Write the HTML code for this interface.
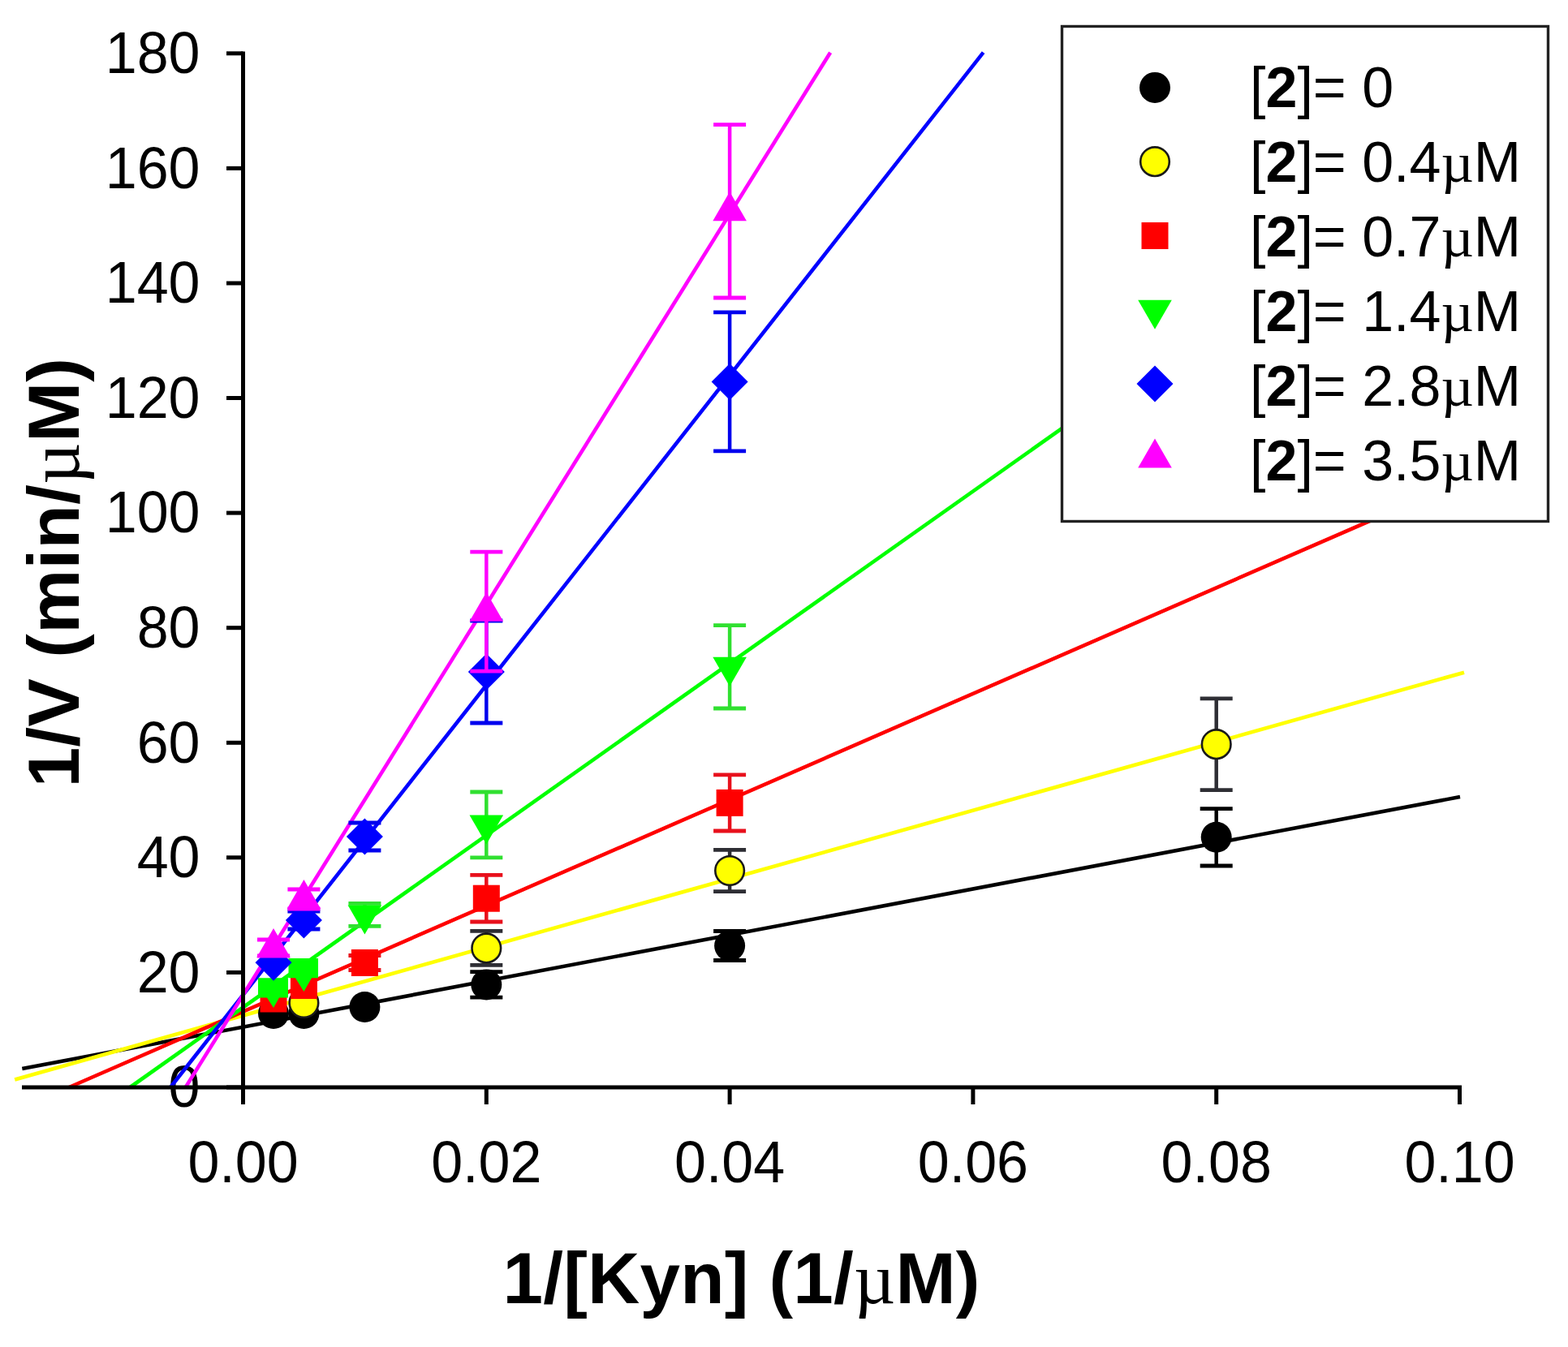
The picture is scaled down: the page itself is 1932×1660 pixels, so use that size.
<!DOCTYPE html>
<html><head><meta charset="utf-8"><title>Lineweaver-Burk plot</title>
<style>
html,body{margin:0;padding:0;background:#fff;}
body{width:1932px;height:1660px;overflow:hidden;}
svg{display:block;}
text{font-family:"Liberation Sans",Arial,sans-serif;fill:#000;}
.mu{font-family:"Liberation Serif","Times New Roman",serif;}
</style></head><body>
<svg width="1932" height="1660" viewBox="0 0 1932 1660">
<rect width="1932" height="1660" fill="#fff"/>

<g font-size="70">
<text transform="translate(246.5,1364.3) scale(1,1.02)" text-anchor="end">0</text>
<text transform="translate(246.5,1222.7) scale(1,1.02)" text-anchor="end">20</text>
<text transform="translate(246.5,1081.1) scale(1,1.02)" text-anchor="end">40</text>
<text transform="translate(246.5,939.6) scale(1,1.02)" text-anchor="end">60</text>
<text transform="translate(246.5,798.0) scale(1,1.02)" text-anchor="end">80</text>
<text transform="translate(246.5,656.4) scale(1,1.02)" text-anchor="end">100</text>
<text transform="translate(246.5,514.8) scale(1,1.02)" text-anchor="end">120</text>
<text transform="translate(246.5,373.3) scale(1,1.02)" text-anchor="end">140</text>
<text transform="translate(246.5,231.7) scale(1,1.02)" text-anchor="end">160</text>
<text transform="translate(246.5,90.1) scale(1,1.02)" text-anchor="end">180</text>
<text transform="translate(299.5,1456.5) scale(1,1.04)" text-anchor="middle">0.00</text>
<text transform="translate(599.3,1456.5) scale(1,1.04)" text-anchor="middle">0.02</text>
<text transform="translate(899.1,1456.5) scale(1,1.04)" text-anchor="middle">0.04</text>
<text transform="translate(1198.9,1456.5) scale(1,1.04)" text-anchor="middle">0.06</text>
<text transform="translate(1498.7,1456.5) scale(1,1.04)" text-anchor="middle">0.08</text>
<text transform="translate(1798.5,1456.5) scale(1,1.04)" text-anchor="middle">0.10</text>
</g>
<g stroke-width="4.6" fill="none" stroke-linecap="butt">
<line x1="27.3" y1="1317.1" x2="1799.0" y2="982.0" stroke="#000000"/>
<line x1="18.2" y1="1330.5" x2="1804.0" y2="828.7" stroke="#ffff00"/>
<line x1="85.0" y1="1340.0" x2="1799.0" y2="593.6" stroke="#ff0000"/>
<line x1="160.2" y1="1340.0" x2="1799.0" y2="181.0" stroke="#00ff00"/>
<line x1="210.0" y1="1340.0" x2="1211.6" y2="64.7" stroke="#0000ff"/>
<line x1="228.6" y1="1340.0" x2="1023.1" y2="64.7" stroke="#ff00ff"/>
</g>
<g stroke="#000" stroke-width="5" fill="none">
<line x1="27" y1="1340.0" x2="1801" y2="1340.0"/>
<line x1="299.5" y1="63.5" x2="299.5" y2="1342.3"/>
<line x1="279" y1="1340.0" x2="299.5" y2="1340.0"/>
<line x1="279" y1="1198.4" x2="299.5" y2="1198.4"/>
<line x1="279" y1="1056.8" x2="299.5" y2="1056.8"/>
<line x1="279" y1="915.3" x2="299.5" y2="915.3"/>
<line x1="279" y1="773.7" x2="299.5" y2="773.7"/>
<line x1="279" y1="632.1" x2="299.5" y2="632.1"/>
<line x1="279" y1="490.5" x2="299.5" y2="490.5"/>
<line x1="279" y1="349.0" x2="299.5" y2="349.0"/>
<line x1="279" y1="207.4" x2="299.5" y2="207.4"/>
<line x1="279" y1="65.8" x2="299.5" y2="65.8"/>
<line x1="299.5" y1="1340.0" x2="299.5" y2="1361.0"/>
<line x1="599.3" y1="1340.0" x2="599.3" y2="1361.0"/>
<line x1="899.1" y1="1340.0" x2="899.1" y2="1361.0"/>
<line x1="1198.9" y1="1340.0" x2="1198.9" y2="1361.0"/>
<line x1="1498.7" y1="1340.0" x2="1498.7" y2="1361.0"/>
<line x1="1798.5" y1="1340.0" x2="1798.5" y2="1361.0"/>
</g>
<g><circle cx="337.0" cy="1249.0" r="19.0" fill="#000"/><circle cx="374.4" cy="1249.0" r="19.0" fill="#000"/><circle cx="449.4" cy="1241.0" r="19.0" fill="#000"/><line x1="599.3" y1="1197.7" x2="599.3" y2="1229.1" stroke="#000000" stroke-width="4.5"/><line x1="579.3" y1="1197.7" x2="619.3" y2="1197.7" stroke="#000000" stroke-width="4.8"/><line x1="579.3" y1="1229.1" x2="619.3" y2="1229.1" stroke="#000000" stroke-width="4.8"/><circle cx="599.3" cy="1213.4" r="19.0" fill="#000"/><line x1="899.1" y1="1147.5" x2="899.1" y2="1183.5" stroke="#000000" stroke-width="4.5"/><line x1="879.1" y1="1147.5" x2="919.1" y2="1147.5" stroke="#000000" stroke-width="4.8"/><line x1="879.1" y1="1183.5" x2="919.1" y2="1183.5" stroke="#000000" stroke-width="4.8"/><circle cx="899.1" cy="1165.5" r="19.0" fill="#000"/><line x1="1498.7" y1="996.6" x2="1498.7" y2="1067.0" stroke="#000000" stroke-width="4.5"/><line x1="1478.7" y1="996.6" x2="1518.7" y2="996.6" stroke="#000000" stroke-width="4.8"/><line x1="1478.7" y1="1067.0" x2="1518.7" y2="1067.0" stroke="#000000" stroke-width="4.8"/><circle cx="1498.7" cy="1031.8" r="19.0" fill="#000"/></g>
<g><circle cx="374.4" cy="1236.0" r="17.8" fill="#ffff00" stroke="#1a1a1a" stroke-width="2.6"/><line x1="599.3" y1="1147.4" x2="599.3" y2="1189.4" stroke="#2e2e34" stroke-width="4.5"/><line x1="579.3" y1="1147.4" x2="619.3" y2="1147.4" stroke="#2e2e34" stroke-width="4.8"/><line x1="579.3" y1="1189.4" x2="619.3" y2="1189.4" stroke="#2e2e34" stroke-width="4.8"/><circle cx="599.3" cy="1168.4" r="17.8" fill="#ffff00" stroke="#1a1a1a" stroke-width="2.6"/><line x1="899.1" y1="1047.3" x2="899.1" y2="1098.7" stroke="#2e2e34" stroke-width="4.5"/><line x1="879.1" y1="1047.3" x2="919.1" y2="1047.3" stroke="#2e2e34" stroke-width="4.8"/><line x1="879.1" y1="1098.7" x2="919.1" y2="1098.7" stroke="#2e2e34" stroke-width="4.8"/><circle cx="899.1" cy="1073.0" r="17.8" fill="#ffff00" stroke="#1a1a1a" stroke-width="2.6"/><line x1="1498.7" y1="860.8" x2="1498.7" y2="973.6" stroke="#2e2e34" stroke-width="4.5"/><line x1="1478.7" y1="860.8" x2="1518.7" y2="860.8" stroke="#2e2e34" stroke-width="4.8"/><line x1="1478.7" y1="973.6" x2="1518.7" y2="973.6" stroke="#2e2e34" stroke-width="4.8"/><circle cx="1498.7" cy="917.2" r="17.8" fill="#ffff00" stroke="#1a1a1a" stroke-width="2.6"/></g>
<g><rect x="320.5" y="1214.5" width="33.0" height="33.0" fill="#ff0000"/><rect x="357.9" y="1198.0" width="33.0" height="33.0" fill="#ff0000"/><line x1="449.4" y1="1177.5" x2="449.4" y2="1195.5" stroke="#e8101c" stroke-width="4.5"/><line x1="429.4" y1="1177.5" x2="469.4" y2="1177.5" stroke="#e8101c" stroke-width="4.8"/><line x1="429.4" y1="1195.5" x2="469.4" y2="1195.5" stroke="#e8101c" stroke-width="4.8"/><rect x="432.9" y="1170.0" width="33.0" height="33.0" fill="#ff0000"/><line x1="599.3" y1="1078.4" x2="599.3" y2="1136.0" stroke="#e8101c" stroke-width="4.5"/><line x1="579.3" y1="1078.4" x2="619.3" y2="1078.4" stroke="#e8101c" stroke-width="4.8"/><line x1="579.3" y1="1136.0" x2="619.3" y2="1136.0" stroke="#e8101c" stroke-width="4.8"/><rect x="582.8" y="1090.7" width="33.0" height="33.0" fill="#ff0000"/><line x1="899.1" y1="954.8" x2="899.1" y2="1024.0" stroke="#e8101c" stroke-width="4.5"/><line x1="879.1" y1="954.8" x2="919.1" y2="954.8" stroke="#e8101c" stroke-width="4.8"/><line x1="879.1" y1="1024.0" x2="919.1" y2="1024.0" stroke="#e8101c" stroke-width="4.8"/><rect x="882.6" y="972.9" width="33.0" height="33.0" fill="#ff0000"/></g>
<g><polygon points="318,1205.3 355,1205.3 355,1229.4 344,1229.4 337.0,1242 329,1229.4 318,1229.4" fill="#00ff00"/><polygon points="355.5,1181 392,1181 392,1205.2 384,1205.2 374.4,1222 364,1205.2 355.5,1205.2" fill="#00ff00"/><line x1="449.4" y1="1113.4" x2="449.4" y2="1141.4" stroke="#30e030" stroke-width="4.5"/><line x1="429.4" y1="1113.4" x2="469.4" y2="1113.4" stroke="#30e030" stroke-width="4.8"/><line x1="429.4" y1="1141.4" x2="469.4" y2="1141.4" stroke="#30e030" stroke-width="4.8"/><polygon points="428.6,1115.4 470.2,1115.4 449.4,1151.4" fill="#00ff00"/><line x1="599.3" y1="976.0" x2="599.3" y2="1056.8" stroke="#30e030" stroke-width="4.5"/><line x1="579.3" y1="976.0" x2="619.3" y2="976.0" stroke="#30e030" stroke-width="4.8"/><line x1="579.3" y1="1056.8" x2="619.3" y2="1056.8" stroke="#30e030" stroke-width="4.8"/><polygon points="578.5,1004.4 620.1,1004.4 599.3,1040.4" fill="#00ff00"/><line x1="899.1" y1="770.6" x2="899.1" y2="873.0" stroke="#30e030" stroke-width="4.5"/><line x1="879.1" y1="770.6" x2="919.1" y2="770.6" stroke="#30e030" stroke-width="4.8"/><line x1="879.1" y1="873.0" x2="919.1" y2="873.0" stroke="#30e030" stroke-width="4.8"/><polygon points="878.3,809.8 919.9,809.8 899.1,845.8" fill="#00ff00"/></g>
<g><polygon points="337.0,1163.8 359.5,1186.3 337.0,1208.8 314.5,1186.3" fill="#0000ff"/><line x1="374.4" y1="1123.0" x2="374.4" y2="1145.0" stroke="#0000ee" stroke-width="4.5"/><line x1="354.4" y1="1123.0" x2="394.4" y2="1123.0" stroke="#0000ee" stroke-width="4.8"/><line x1="354.4" y1="1145.0" x2="394.4" y2="1145.0" stroke="#0000ee" stroke-width="4.8"/><polygon points="374.4,1111.5 396.9,1134.0 374.4,1156.5 351.9,1134.0" fill="#0000ff"/><line x1="449.4" y1="1014.0" x2="449.4" y2="1048.0" stroke="#0000ee" stroke-width="4.5"/><line x1="429.4" y1="1014.0" x2="469.4" y2="1014.0" stroke="#0000ee" stroke-width="4.8"/><line x1="429.4" y1="1048.0" x2="469.4" y2="1048.0" stroke="#0000ee" stroke-width="4.8"/><polygon points="449.4,1008.5 471.9,1031.0 449.4,1053.5 426.9,1031.0" fill="#0000ff"/><line x1="599.3" y1="765.0" x2="599.3" y2="891.0" stroke="#0000ee" stroke-width="4.5"/><line x1="579.3" y1="765.0" x2="619.3" y2="765.0" stroke="#0000ee" stroke-width="4.8"/><line x1="579.3" y1="891.0" x2="619.3" y2="891.0" stroke="#0000ee" stroke-width="4.8"/><polygon points="599.3,805.5 621.8,828.0 599.3,850.5 576.8,828.0" fill="#0000ff"/><line x1="899.1" y1="384.9" x2="899.1" y2="555.9" stroke="#0000ee" stroke-width="4.5"/><line x1="879.1" y1="384.9" x2="919.1" y2="384.9" stroke="#0000ee" stroke-width="4.8"/><line x1="879.1" y1="555.9" x2="919.1" y2="555.9" stroke="#0000ee" stroke-width="4.8"/><polygon points="899.1,447.9 921.6,470.4 899.1,492.9 876.6,470.4" fill="#0000ff"/></g>
<g><line x1="337.0" y1="1158.0" x2="337.0" y2="1178.0" stroke="#ff00ff" stroke-width="4.5"/><line x1="317.0" y1="1158.0" x2="357.0" y2="1158.0" stroke="#ff00ff" stroke-width="4.8"/><line x1="317.0" y1="1178.0" x2="357.0" y2="1178.0" stroke="#ff00ff" stroke-width="4.8"/><polygon points="316.2,1180.0 357.8,1180.0 337.0,1144.0" fill="#ff00ff"/><line x1="374.4" y1="1096.0" x2="374.4" y2="1120.0" stroke="#ff00ff" stroke-width="4.5"/><line x1="354.4" y1="1096.0" x2="394.4" y2="1096.0" stroke="#ff00ff" stroke-width="4.8"/><line x1="354.4" y1="1120.0" x2="394.4" y2="1120.0" stroke="#ff00ff" stroke-width="4.8"/><polygon points="353.7,1120.0 395.2,1120.0 374.4,1084.0" fill="#ff00ff"/><line x1="599.3" y1="680.2" x2="599.3" y2="827.2" stroke="#ff00ff" stroke-width="4.5"/><line x1="579.3" y1="680.2" x2="619.3" y2="680.2" stroke="#ff00ff" stroke-width="4.8"/><line x1="579.3" y1="827.2" x2="619.3" y2="827.2" stroke="#ff00ff" stroke-width="4.8"/><polygon points="578.5,765.7 620.1,765.7 599.3,729.7" fill="#ff00ff"/><line x1="899.1" y1="153.6" x2="899.1" y2="367.0" stroke="#ff00ff" stroke-width="4.5"/><line x1="879.1" y1="153.6" x2="919.1" y2="153.6" stroke="#ff00ff" stroke-width="4.8"/><line x1="879.1" y1="367.0" x2="919.1" y2="367.0" stroke="#ff00ff" stroke-width="4.8"/><polygon points="878.3,272.3 919.9,272.3 899.1,236.3" fill="#ff00ff"/></g>
<text x="913.6" y="1606" font-size="89" font-weight="bold" text-anchor="middle" letter-spacing="0.2">1/[Kyn] (1/<tspan class="mu" font-weight="normal">µ</tspan>M)</text>
<text transform="translate(97,705.5) rotate(-90)" font-size="89" font-weight="bold" text-anchor="middle" letter-spacing="0.3">1/V (min/<tspan class="mu" font-weight="normal">µ</tspan>M)</text>
<rect x="1308.5" y="32.5" width="599" height="610" fill="#fff" stroke="#222" stroke-width="3.4"/>
<circle cx="1423.0" cy="107.9" r="19.0" fill="#000"/>
<text x="1540" y="131.8" font-size="70">[<tspan font-weight="bold">2</tspan>]= 0</text>
<circle cx="1423.0" cy="199.2" r="17.8" fill="#ffff00" stroke="#1a1a1a" stroke-width="2.6"/>
<text x="1540" y="223.8" font-size="70">[<tspan font-weight="bold">2</tspan>]= 0.4<tspan class="mu">µ</tspan>M</text>
<rect x="1406.5" y="274.0" width="33.0" height="33.0" fill="#ff0000"/>
<text x="1540" y="315.8" font-size="70">[<tspan font-weight="bold">2</tspan>]= 0.7<tspan class="mu">µ</tspan>M</text>
<polygon points="1402.2,369.8 1443.8,369.8 1423.0,405.8" fill="#00ff00"/>
<text x="1540" y="407.8" font-size="70">[<tspan font-weight="bold">2</tspan>]= 1.4<tspan class="mu">µ</tspan>M</text>
<polygon points="1423.0,450.6 1445.5,473.1 1423.0,495.6 1400.5,473.1" fill="#0000ff"/>
<text x="1540" y="499.8" font-size="70">[<tspan font-weight="bold">2</tspan>]= 2.8<tspan class="mu">µ</tspan>M</text>
<polygon points="1402.2,576.4 1443.8,576.4 1423.0,540.4" fill="#ff00ff"/>
<text x="1540" y="591.8" font-size="70">[<tspan font-weight="bold">2</tspan>]= 3.5<tspan class="mu">µ</tspan>M</text>
</svg></body></html>
